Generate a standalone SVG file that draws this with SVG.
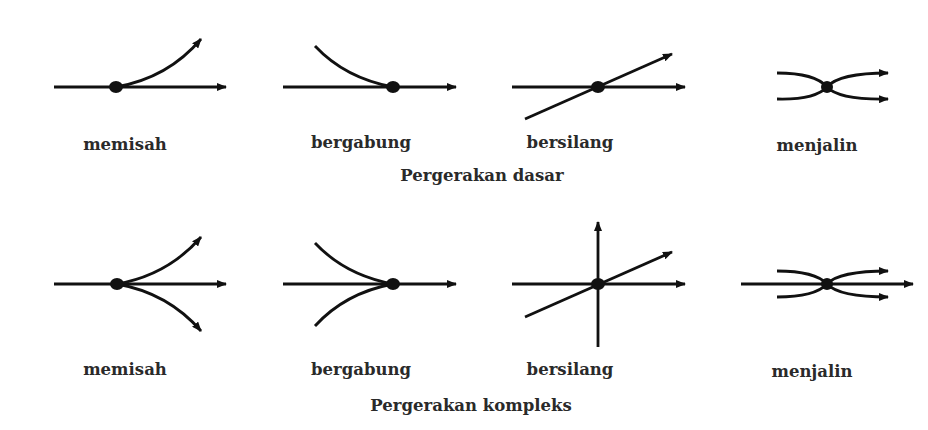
<svg xmlns="http://www.w3.org/2000/svg" width="928" height="430" viewBox="0 0 928 430">
<style>
.ln{fill:none;stroke:#111;stroke-width:2.8}
.ar{marker-end:url(#ah)}
.dot{fill:#111}
.lbl{font-family:"DejaVu Serif","Liberation Serif",serif;font-size:16.5px;font-weight:bold;fill:#2a2a2a;text-anchor:middle}
</style>
<defs>
<marker id="ah" viewBox="0 0 10 8" refX="9" refY="4" markerWidth="10" markerHeight="8" markerUnits="userSpaceOnUse" orient="auto">
<path d="M0,0 L10,4 L0,8 Z" fill="#111"/>
</marker>
</defs>
<rect width="928" height="430" fill="#fff"/>
<g id="connectors">
<path class="ln ar" d="M54,87 H226"/>
<path class="ln ar" d="M116,87 Q168,78 201,39"/>
<path class="ln ar" d="M283,87 H456"/>
<path class="ln" d="M315,46 Q345,78 393,87"/>
<path class="ln ar" d="M512,87 H685"/>
<path class="ln ar" d="M525,119 L672,54"/>
<path class="ln ar" d="M777,73 Q815,73 827,87 Q839,100 888,99"/>
<path class="ln ar" d="M777,99 Q815,100 827,87 Q839,73 888,73"/>
<path class="ln ar" d="M54,284 H226"/>
<path class="ln ar" d="M117,284 Q168,275 201,237"/>
<path class="ln ar" d="M117,284 Q168,293 201,331"/>
<path class="ln ar" d="M283,284 H456"/>
<path class="ln" d="M315,243 Q345,275 393,284"/>
<path class="ln" d="M315,326 Q345,293 393,284"/>
<path class="ln ar" d="M512,284 H685"/>
<path class="ln ar" d="M598,347 V222"/>
<path class="ln ar" d="M525,317 L672,252"/>
<path class="ln ar" d="M741,284 H913"/>
<path class="ln ar" d="M777,271 Q815,271 827,284 Q839,297 888,297"/>
<path class="ln ar" d="M777,297 Q815,297 827,284 Q839,271 888,271"/>
</g>
<g id="n-memisah-dasar"><ellipse class="dot" cx="116" cy="87" rx="7" ry="6"/><text class="lbl" x="125" y="150">memisah</text></g>
<g id="n-bergabung-dasar"><ellipse class="dot" cx="393" cy="87" rx="7" ry="6"/><text class="lbl" x="361" y="148">bergabung</text></g>
<g id="n-bersilang-dasar"><ellipse class="dot" cx="598" cy="87" rx="7" ry="6"/><text class="lbl" x="570" y="148">bersilang</text></g>
<g id="n-menjalin-dasar"><ellipse class="dot" cx="827" cy="87" rx="6" ry="6"/><text class="lbl" x="817" y="151">menjalin</text></g>
<g id="t-dasar"><text class="lbl" x="482" y="181">Pergerakan dasar</text></g>
<g id="n-memisah-kompleks"><ellipse class="dot" cx="117" cy="284" rx="7" ry="6"/><text class="lbl" x="125" y="375">memisah</text></g>
<g id="n-bergabung-kompleks"><ellipse class="dot" cx="393" cy="284" rx="7" ry="6"/><text class="lbl" x="361" y="375">bergabung</text></g>
<g id="n-bersilang-kompleks"><ellipse class="dot" cx="598" cy="284" rx="7" ry="6"/><text class="lbl" x="570" y="375">bersilang</text></g>
<g id="n-menjalin-kompleks"><ellipse class="dot" cx="827" cy="284" rx="6" ry="6"/><text class="lbl" x="812" y="377">menjalin</text></g>
<g id="t-kompleks"><text class="lbl" x="471" y="411">Pergerakan kompleks</text></g>
</svg>
